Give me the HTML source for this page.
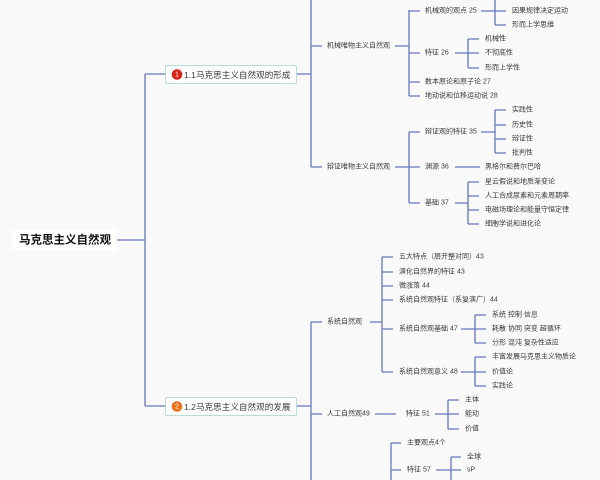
<!DOCTYPE html>
<html><head><meta charset="utf-8"><style>
html,body{margin:0;padding:0;background:#f9f9f9;}
svg{display:block;}
text{font-family:"Liberation Sans","Noto Sans CJK SC",sans-serif;fill:#3a3a3a;font-size:7px;dominant-baseline:central;}
</style></head><body>
<svg width="600" height="480" viewBox="0 0 600 480" xmlns="http://www.w3.org/2000/svg">
<rect width="600" height="480" fill="#f9f9f9"/>
<g stroke="#6577bd" stroke-width="1.3" fill="none">
<path d="M117 240H145M145 74V406M145 74H165M145 406H165"/>
<path d="M297 74H311M311 0V167M311 46H322M311 167H322"/>
<path d="M395 46H409M409 10V96M409 11H420M409 53H420M409 82H420M409 96H420"/>
<path d="M481 11H495M495 0V25M495 -3H506M495 11H506M495 25H506"/>
<path d="M455 53H468M468 39V68M468 39H479M468 53H479M468 68H479"/>
<path d="M395 167H409M409 132V203M409 132H420M409 167H420M409 203H420"/>
<path d="M481 132H495M495 110V153M495 110H506M495 125H506M495 139H506M495 153H506"/>
<path d="M455 167H480"/>
<path d="M455 203H468M468 182V224M468 182H479M468 196H479M468 210H479M468 224H479"/>
<path d="M297 406H311M311 322V480M311 322H322M311 414H322"/>
<path d="M370 322H382M382 257V372M382 257H393M382 272H393M382 286H393M382 300H393M382 329H393M382 372H393"/>
<path d="M461 329H475M475 315V343M475 315H486M475 329H486M475 343H486"/>
<path d="M461 372H475M475 357V386M475 357H486M475 372H486M475 386H486"/>
<path d="M375 414H396"/>
<path d="M435 414H448M448 400V429M448 400H459M448 414H459M448 429H459"/>
<path d="M391 443V480M391 443H401M391 470H401"/>
<path d="M436 470H451M451 457V480M451 457H461M451 470H461"/>
</g>
<rect x="12" y="230" width="105" height="20" rx="2" fill="#fff"/>
<text x="19" y="240.5" style="font-size:11.5px;font-weight:bold;fill:#111">马克思主义自然观</text>
<rect x="165.5" y="65.5" width="131" height="18" rx="1.5" fill="#fff" stroke="#b9dcd4"/>
<circle cx="177" cy="74.5" r="5.3" fill="#d9241a"/>
<text x="177" y="75" text-anchor="middle" style="fill:#fff;font-size:7px">1</text>
<text x="184" y="75" style="font-size:8.6px">1.1马克思主义自然观的形成</text>
<rect x="165.5" y="397.5" width="131" height="18" rx="1.5" fill="#fff" stroke="#b9dcd4"/>
<circle cx="177" cy="406.5" r="5.3" fill="#e8721c"/>
<text x="177" y="407" text-anchor="middle" style="fill:#fff;font-size:7px">2</text>
<text x="184" y="407" style="font-size:8.6px">1.2马克思主义自然观的发展</text>

<text x="327" y="46">机械唯物主义自然观</text>
<text x="425" y="11">机械观的观点 25</text>
<text x="425" y="53">特征 26</text>
<text x="425" y="82">数本原论和原子论 27</text>
<text x="425" y="96">地动说和位移运动说 28</text>
<text x="512" y="-3">因果关系</text>
<text x="512" y="11">因果规律决定运动</text>
<text x="512" y="25">形而上学思维</text>
<text x="485" y="39">机械性</text>
<text x="485" y="53">不彻底性</text>
<text x="485" y="68">形而上学性</text>
<text x="327" y="167">辩证唯物主义自然观</text>
<text x="425" y="132">辩证观的特征 35</text>
<text x="425" y="167">渊源 36</text>
<text x="425" y="203">基础 37</text>
<text x="512" y="110">实践性</text>
<text x="512" y="125">历史性</text>
<text x="512" y="139">辩证性</text>
<text x="512" y="153">批判性</text>
<text x="485" y="167">黑格尔和费尔巴哈</text>
<text x="485" y="182">星云假说和地质渐变论</text>
<text x="485" y="196">人工合成尿素和元素周期率</text>
<text x="485" y="210">电磁场理论和能量守恒定律</text>
<text x="485" y="224">细胞学说和进化论</text>

<text x="327" y="322">系统自然观</text>
<text x="399" y="257">五大特点（层开整对同）43</text>
<text x="399" y="272">演化自然界的特征 43</text>
<text x="399" y="286">微涨落 44</text>
<text x="399" y="300">系统自然观特征（系复演广）44</text>
<text x="399" y="329">系统自然观基础 47</text>
<text x="399" y="372">系统自然观意义 48</text>
<text x="492" y="315">系统 控制 信息</text>
<text x="492" y="329">耗散 协同 突变 超循环</text>
<text x="492" y="343">分形 混沌 复杂性适应</text>
<text x="492" y="357">丰富发展马克思主义物质论</text>
<text x="492" y="372">价值论</text>
<text x="492" y="386">实践论</text>
<text x="327" y="414">人工自然观49</text>
<text x="406" y="414">特征 51</text>
<text x="465" y="400">主体</text>
<text x="465" y="414">能动</text>
<text x="465" y="429">价值</text>
<text x="407" y="443">主要观点4个</text>
<text x="407" y="470">特征 57</text>
<text x="467" y="457">全球</text>
<text x="467" y="470">sP</text>
</svg>
</body></html>
